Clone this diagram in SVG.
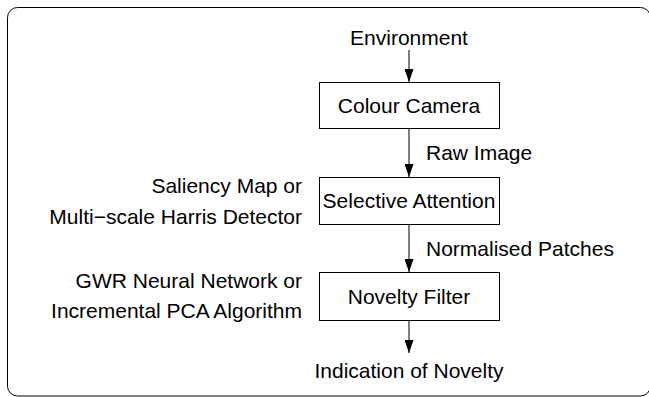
<svg xmlns="http://www.w3.org/2000/svg" width="649" height="397" viewBox="0 0 649 397">
<style>
text{font-family:"Liberation Sans",Arial,sans-serif;font-size:21px;fill:#000}
.box{fill:#fff;stroke:#000;stroke-width:1}
.c{text-anchor:middle}
.e{text-anchor:end}
.edge{stroke:#000;stroke-width:1;fill:none;marker-end:url(#ah)}
</style>
<defs>
<marker id="ah" markerWidth="13" markerHeight="9" refX="13" refY="4.5" orient="auto" markerUnits="userSpaceOnUse" viewBox="0 0 13 9">
<path d="M0,0 L13,4.5 L0,9 Z" fill="#000"/>
</marker>
</defs>
<rect x="7.5" y="7.5" width="643" height="388.5" rx="10" fill="none" stroke="#000" stroke-width="1"/>
<g id="connectors">
<line class="edge" x1="409" y1="50" x2="409" y2="82"/>
<line class="edge" x1="409" y1="128" x2="409" y2="177"/>
<line class="edge" x1="409" y1="224" x2="409" y2="272"/>
<line class="edge" x1="409" y1="320" x2="409" y2="353"/>
<text x="426" y="160">Raw Image</text>
<text x="426" y="256">Normalised Patches</text>
</g>
<g id="environment"><text class="c" x="409" y="45">Environment</text></g>
<g id="camera">
<rect class="box" x="319.5" y="82.5" width="180" height="46"/>
<text class="c" x="409" y="113">Colour Camera</text>
</g>
<g id="attention">
<rect class="box" x="319.5" y="177.5" width="180" height="47"/>
<text class="c" x="409" y="208">Selective Attention</text>
<text class="e" x="302" y="193">Saliency Map or</text>
<text class="e" x="302" y="224">Multi−scale Harris Detector</text>
</g>
<g id="novelty">
<rect class="box" x="319.5" y="272.5" width="180" height="48"/>
<text class="c" x="409" y="304">Novelty Filter</text>
<text class="e" x="302" y="288">GWR Neural Network or</text>
<text class="e" x="302" y="318">Incremental PCA Algorithm</text>
</g>
<g id="indication"><text class="c" x="409" y="378">Indication of Novelty</text></g>
</svg>
